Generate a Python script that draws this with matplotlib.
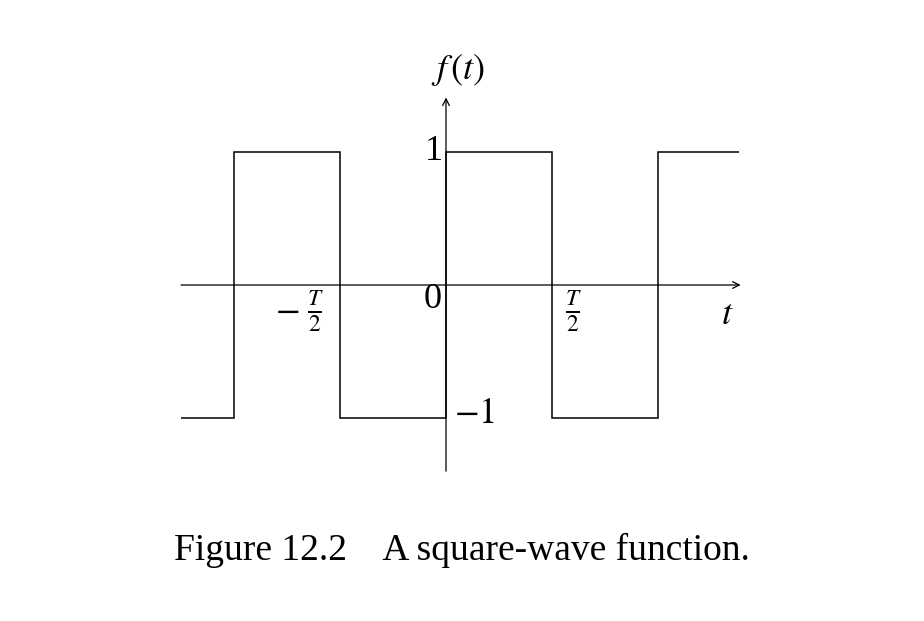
import numpy as np
import matplotlib.pyplot as plt

plt.rcParams['font.family'] = ['Liberation Serif', 'DejaVu Serif']
plt.rcParams['mathtext.fontset'] = 'stix'

# square wave, period T = 2 (half period = 1)
t_edges = [-2.5, -2, -1, 0, 1, 2, 2.76]
f_levels = [-1, 1, -1, 1, -1, 1]

# axis extents
t_axis = (-2.5, 2.78)
f_axis = (-1.4, 1.41)

fig = plt.figure(figsize=(9.24, 6.21), dpi=100)
ax = fig.add_axes([0, 0, 1, 1])
ax.set_xlim(-446 / 106, (924 - 446) / 106)
ax.set_ylim(-(621 - 285) / 133, 285 / 133)
ax.axis('off')

# wave
ax.stairs(f_levels, t_edges, color='black', lw=1.1, baseline=None)

# axes with open arrow heads
arrow = dict(arrowstyle='->', color='black', lw=0.9, mutation_scale=12,
             shrinkA=0, shrinkB=0)
ax.annotate('', xy=(t_axis[1], 0), xytext=(t_axis[0], 0), arrowprops=arrow)
ax.annotate('', xy=(0, f_axis[1]), xytext=(0, f_axis[0]), arrowprops=arrow)

fs = 26
ax.text(0.11, 1.62, r'$f\,(t)$', fontsize=fs, ha='center', va='center')
ax.text(2.65, -0.23, r'$t$', fontsize=fs, ha='center', va='center')
ax.text(-0.03, 1.0, '1', fontsize=fs, ha='right', va='center')
ax.text(-0.04, -0.11, '0', fontsize=fs, ha='right', va='center')
ax.text(0.08, -0.97, r'$-1$', fontsize=fs, ha='left', va='center')
ax.text(-1.38, -0.2, r'$-$', fontsize=fs, ha='right', va='center')
ax.text(-1.23, -0.2, r'$\frac{T}{2}$', fontsize=24, ha='center', va='center')
ax.text(1.2, -0.2, r'$\frac{T}{2}$', fontsize=24, ha='center', va='center')

fig.text(0.5, 1 - 550 / 621, 'Figure 12.2    A square-wave function.',
         fontsize=27, ha='center', va='center')

fig.savefig('out.png', dpi=100)
